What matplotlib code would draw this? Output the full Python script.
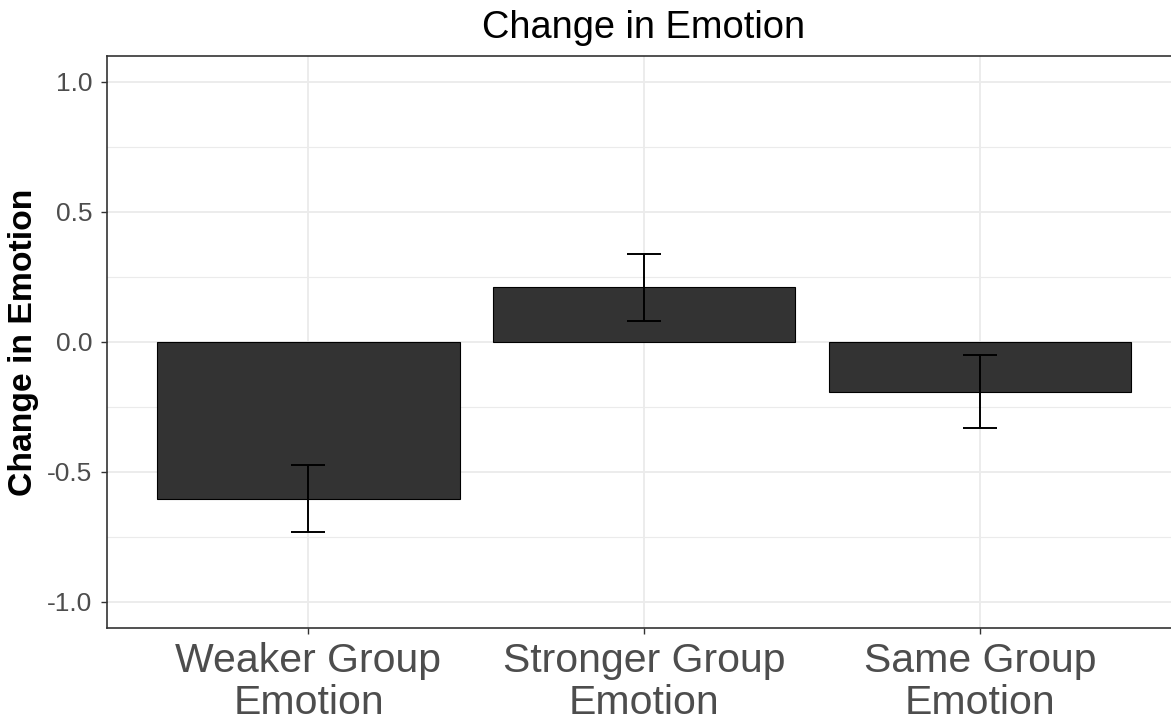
import matplotlib
matplotlib.use("Agg")
import matplotlib.pyplot as plt
from matplotlib.ticker import MultipleLocator, FixedLocator

categories = ["Weaker Group\nEmotion", "Stronger Group\nEmotion", "Same Group\nEmotion"]
means = [-0.604, 0.211, -0.192]
err_low = [-0.733, 0.082, -0.330]
err_high = [-0.474, 0.339, -0.049]
y_ticks = [-1.0, -0.5, 0.0, 0.5, 1.0]
y_tick_labels = ["-1.0", "-0.5", "0.0", "0.5", "1.0"]

plt.rcParams['font.family'] = ['Liberation Sans', 'DejaVu Sans']
W, H, DPI = 1171, 727, 100
fig = plt.figure(figsize=(W / DPI, H / DPI), dpi=DPI)
left, right, top, bottom = 107, 1181.6, 56, 627.7
ax = fig.add_axes([left / W, 1 - bottom / H, (right - left) / W, (bottom - top) / H])

x = list(range(1, len(categories) + 1))
ax.bar(x, means, width=0.9, color="#333333", edgecolor="black", linewidth=0.8, zorder=3)
yerr = [[m - lo for m, lo in zip(means, err_low)], [hi - m for m, hi in zip(means, err_high)]]
ax.errorbar(x, means, yerr=yerr, fmt="none", ecolor="black", elinewidth=1.4,
            capsize=11.9, capthick=1.4, zorder=4)

ax.set_xlim(0.4, 3.6)
ax.set_ylim(-1.1, 1.1)
ax.set_xticks(x)
ax.set_xticklabels(categories, fontsize=29.5, color="#4D4D4D", linespacing=1.14)
ax.set_yticks(y_ticks)
ax.set_yticklabels(y_tick_labels, fontsize=19, color="#4D4D4D")
ax.yaxis.set_minor_locator(FixedLocator([-0.75, -0.25, 0.25, 0.75]))
ax.tick_params(axis="both", which="major", length=4, width=1, color="#333333")
ax.tick_params(axis="x", which="major", pad=6.5)
ax.tick_params(axis="y", which="major", pad=6.6)
ax.tick_params(axis="y", which="minor", length=0)
ax.grid(which="major", color="#EBEBEB", linewidth=1.3, zorder=0)
ax.grid(which="minor", axis="y", color="#EBEBEB", linewidth=0.8, zorder=0)
ax.set_axisbelow(True)
for s in ax.spines.values():
    s.set_color("#333333")
    s.set_linewidth(1.2)

ax.set_ylabel("Change in Emotion", fontsize=24.3, fontweight="bold", color="black", labelpad=6)
fig.text(644 / W, 1 - 28 / H, "Change in Emotion", fontsize=27.4, ha="center", va="center")

fig.savefig("out.png", dpi=DPI)
